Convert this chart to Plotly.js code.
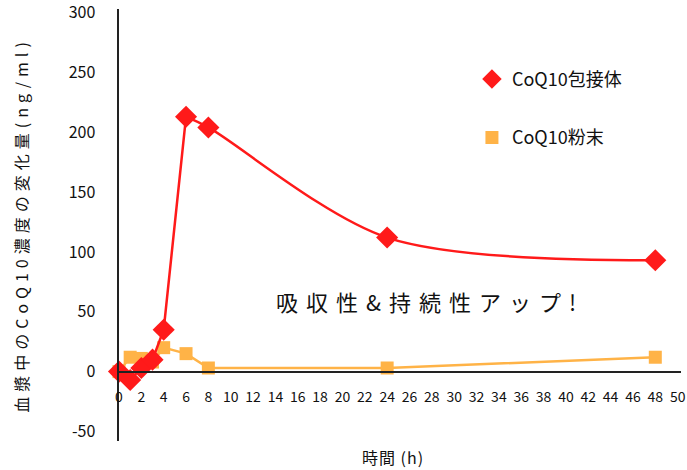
<!DOCTYPE html>
<html>
<head>
<meta charset="utf-8">
<script src="https://cdn.plot.ly/plotly-3.0.1.min.js"></script>
<style>
html,body{margin:0;padding:0;background:#fff;}
#chart{width:687px;height:470px;}
.ytitle{letter-spacing:5px;}
g.annotation[data-index="0"] .annotation-text{letter-spacing:8px;}
g.annotation[data-index="1"] .annotation-text{letter-spacing:1px;}
</style>
</head>
<body>
<div id="chart"></div>
<script>
// Data
const hours = [0, 1, 2, 3, 4, 6, 8, 24, 48];
const inclusionValues = [0, -7, 3, 10, 35, 213, 204, 112, 93];
const powderHours = [0, 1, 2, 3, 4, 6, 8, 24, 48];
const powderValues = [0, 12, 11, 8, 20, 15, 3, 3, 12];
const seriesNames = ['CoQ10包接体', 'CoQ10粉末'];
const xTicks = [0,2,4,6,8,10,12,14,16,18,20,22,24,26,28,30,32,34,36,38,40,42,44,46,48,50];
const yTicks = [-50, 0, 50, 100, 150, 200, 250, 300];
const yTitle = '血漿中のCoQ10濃度の変化量(ng/ml)';
const xTitle = '時間 (h)';
const noteText = '吸収性&持続性アップ!';

const FONT = '"Noto Sans CJK JP", "Noto Sans", sans-serif';
const RED = '#ff1a1a', ORANGE = '#ffb347';
const yMin = -58, yMax = 303;
const peakIdx = 5; // split: straight rise up to the peak, smooth decay after it

const traces = [
  {
    x: powderHours, y: powderValues, type: 'scatter', mode: 'lines+markers',
    line: {color: ORANGE, width: 2.5},
    marker: {symbol: 'square', size: 13, color: ORANGE},
    cliponaxis: false, showlegend: false
  },
  {
    x: hours.slice(0, peakIdx + 1), y: inclusionValues.slice(0, peakIdx + 1),
    type: 'scatter', mode: 'lines', line: {color: RED, width: 2.5},
    cliponaxis: false, showlegend: false
  },
  {
    x: hours.slice(peakIdx), y: inclusionValues.slice(peakIdx),
    type: 'scatter', mode: 'lines', line: {color: RED, width: 2.5, shape: 'spline', smoothing: 0.9},
    cliponaxis: false, showlegend: false
  },
  {
    x: hours, y: inclusionValues, type: 'scatter', mode: 'markers',
    marker: {symbol: 'diamond', size: 17, color: RED},
    cliponaxis: false, showlegend: false
  },
  // legend-only entries (marker only, as in the reference)
  {x: [null], y: [null], name: seriesNames[0], type: 'scatter', mode: 'markers',
   marker: {symbol: 'diamond', size: 15, color: RED}, legendgroup: 'a'},
  {x: [null], y: [null], name: seriesNames[1], type: 'scatter', mode: 'markers',
   marker: {symbol: 'square', size: 13, color: ORANGE}, legendgroup: 'b'}
];

const layout = {
  width: 687, height: 470,
  margin: {l: 119, r: 6, t: 9, b: 29},
  paper_bgcolor: '#ffffff', plot_bgcolor: '#ffffff',
  font: {family: FONT, color: '#111', size: 15},
  showlegend: true,
  legend: {
    x: 0.628, y: 0.88, xanchor: 'left', yanchor: 'top',
    traceorder: 'grouped', tracegroupgap: 32,
    font: {family: FONT, size: 18, color: '#111'},
    bgcolor: 'rgba(0,0,0,0)'
  },
  xaxis: {
    range: [0, 50.3], tickvals: xTicks, ticktext: xTicks.map(String),
    showgrid: false, zeroline: false,
    showline: true, linecolor: '#222', linewidth: 2.5,
    anchor: 'free', position: (0 - yMin) / (yMax - yMin),
    ticks: 'outside', ticklen: 12, tickcolor: 'rgba(0,0,0,0)',
    tickfont: {family: FONT, size: 14, color: '#111'},
    ticklabeloverflow: 'allow',
    title: {text: ''}
  },
  yaxis: {
    range: [yMin, yMax], tickvals: yTicks, ticktext: yTicks.map(String),
    showgrid: false, zeroline: false,
    showline: true, linecolor: '#222', linewidth: 2.5,
    ticks: 'outside', ticklen: 18, tickcolor: 'rgba(0,0,0,0)',
    tickfont: {family: FONT, size: 16, color: '#111'},
    ticklabeloverflow: 'allow',
    title: {text: yTitle, font: {family: FONT, size: 16, color: '#111'}, standoff: 36}
  },
  annotations: [
    {
      x: 0.553, y: 0.325, xref: 'paper', yref: 'paper', xanchor: 'center', yanchor: 'middle',
      text: noteText, showarrow: false,
      font: {family: FONT, size: 22, color: '#111'}
    },
    {
      x: 0.487, y: -0.037, xref: 'paper', yref: 'paper', xanchor: 'center', yanchor: 'middle',
      text: xTitle, showarrow: false,
      font: {family: FONT, size: 16, color: '#111'}
    }
  ]
};

Plotly.newPlot('chart', traces, layout, {displayModeBar: false, staticPlot: true});
</script>
</body>
</html>
